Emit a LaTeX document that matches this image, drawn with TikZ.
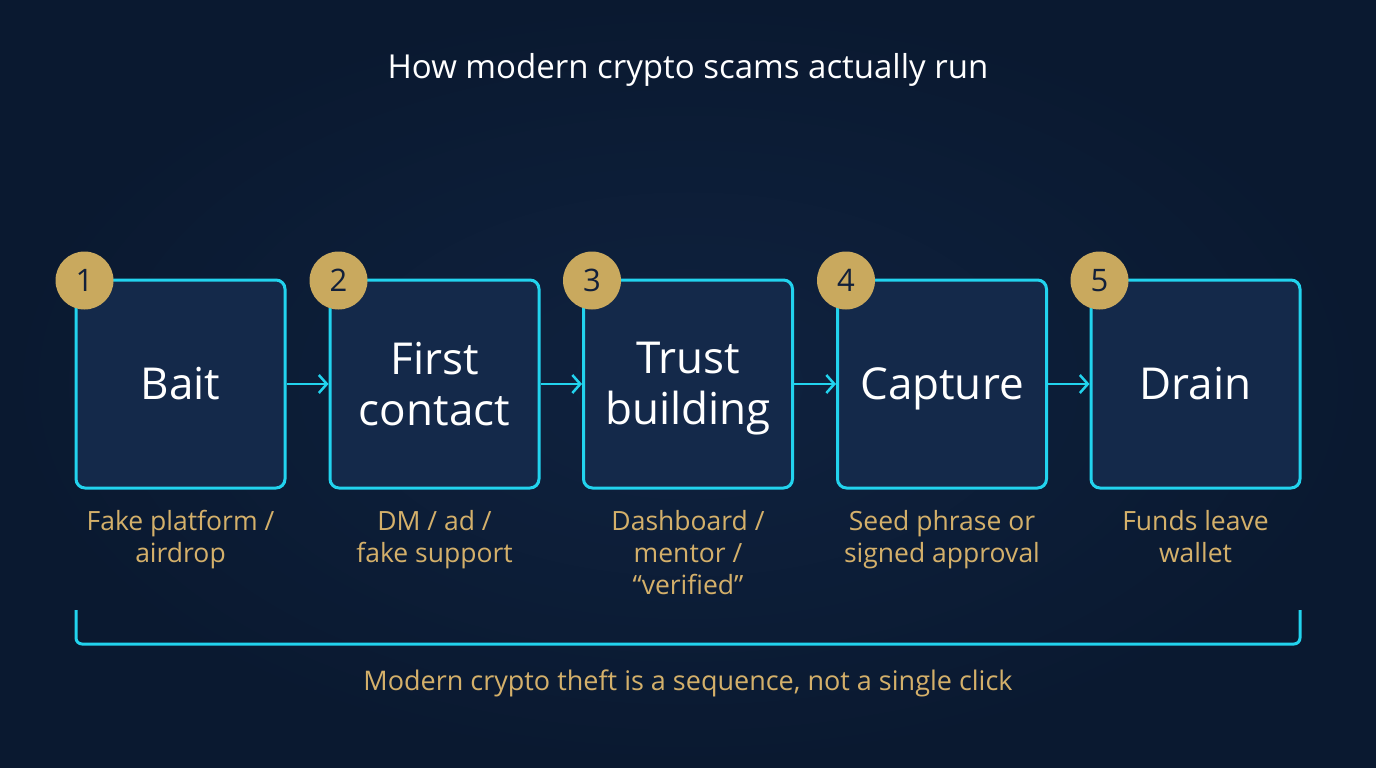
\documentclass[tikz,border=0pt]{standalone}
\usepackage{fontspec}
\setmainfont{Open Sans}
\usetikzlibrary{arrows.meta,calc}
\definecolor{bgc}{HTML}{0A1930}
\definecolor{bgin}{HTML}{0F223F}
\definecolor{boxc}{HTML}{14294A}
\definecolor{cyanc}{HTML}{22D3EE}
\definecolor{goldc}{HTML}{C9A95E}
\definecolor{goldtxt}{HTML}{D4B06A}
\definecolor{navytxt}{HTML}{12203A}
\newcommand\bstrut{\vphantom{Tg}}
\tikzset{
  stepbox/.style={draw=cyanc, line width=3pt, fill=boxc, rounded corners=9pt,
    minimum width=209pt, minimum height=208pt, inner sep=0pt, align=center,
    text=white, font=\fontsize{44}{51}\selectfont},
  steplabel/.style={align=center, text=white, font=\fontsize{44}{51}\selectfont, yshift=-5pt, inner sep=0pt},
  badge/.style={circle, fill=goldc, minimum size=58pt, inner sep=0pt,
    text=navytxt, font=\fontsize{31}{31}\selectfont},
  caption/.style={text=goldtxt, align=center, font=\fontsize{26.5}{32}\selectfont, anchor=north},
  flow/.style={draw=cyanc, line width=2.5pt, -{Straight Barb[length=8pt,width=18pt,line width=2.5pt]}},
}
\begin{document}
\begin{tikzpicture}[x=1pt,y=-1pt]
\useasboundingbox (0,0) rectangle (1376,768);
\shade[inner color=bgin, outer color=bgc] (0,0) rectangle (1376,768);
\node[text=white, font=\fontsize{33}{33}\selectfont] (title) at (688,70) {How modern crypto scams actually run};

\node[stepbox] (b1) at (180.5,384) {};
\node[stepbox] (b2) at (434.5,384) {};
\node[stepbox] (b3) at (688,384) {};
\node[stepbox] (b4) at (942,384) {};
\node[stepbox] (b5) at (1195.5,384) {};

\node[steplabel] (t1) at (b1.center) {\bstrut Bait\bstrut};
\node[steplabel] (t2) at (b2.center) {\bstrut First\\contact\bstrut};
\node[steplabel] (t3) at (b3.center) {\bstrut Trust\\building\bstrut};
\node[steplabel] (t4) at (b4.center) {\bstrut Capture\bstrut};
\node[steplabel] (t5) at (b5.center) {\bstrut Drain\bstrut};

\foreach \i in {1,...,5}{
  \node[badge] (n\i) at ($(b\i.north west)+(10,2)$) {\i};
}

\draw[flow] (b1.east) -- (b2.west);
\draw[flow] (b2.east) -- (b3.west);
\draw[flow] (b3.east) -- (b4.west);
\draw[flow] (b4.east) -- (b5.west);

\node[caption] (c1) at (180.5,507) {Fake platform /\\airdrop};
\node[caption] (c2) at (434.5,507) {DM / ad /\\fake support};
\node[caption] (c3) at (688,507) {Dashboard /\\mentor /\\“verified”};
\node[caption] (c4) at (942,507) {Seed phrase or\\signed approval};
\node[caption] (c5) at (1195.5,507) {Funds leave\\wallet};

\coordinate (brL) at (76,610);
\coordinate (brM) at (688,644);
\coordinate (brR) at (1300,610);
\draw[cyanc, line width=3pt, rounded corners=6pt] (brL) |- (brM) -| (brR);

\node[text=goldtxt, font=\fontsize{27}{30}\selectfont] (foot) at (688,683) {Modern crypto theft is a sequence, not a single click};
\end{tikzpicture}
\end{document}
